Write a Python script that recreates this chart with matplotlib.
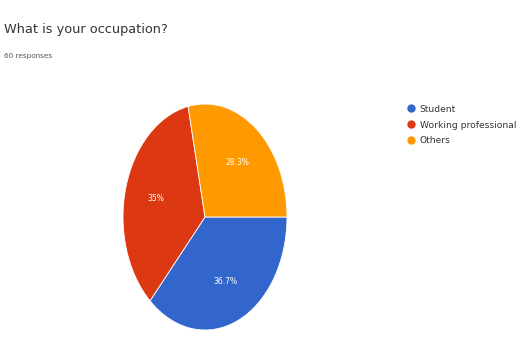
import matplotlib
matplotlib.use("Agg")
import matplotlib.pyplot as plt
from matplotlib.lines import Line2D
import numpy as np

categories = ["Student", "Working professional", "Others"]
values = [36.7, 35.0, 28.3]
labels = ["36.7%", "35%", "28.3%"]
colors = ["#3366cc", "#dc3912", "#ff9900"]

fig = plt.figure(figsize=(5.30, 3.39), dpi=100)
fig.patch.set_facecolor("white")

fig.text(4/530, 1 - 30/339, "What is your occupation?", fontsize=9.3, color="#333333",
         va="center", ha="left")
fig.text(4/530, 1 - 56/339, "60 responses", fontsize=5.2, color="#555555",
         va="center", ha="left")

ax = fig.add_axes([123/530, 1 - 330/339, 164/530, 226/339])
wedges, texts = ax.pie(values, colors=colors, startangle=0, counterclock=False,
                       radius=1.0, wedgeprops=dict(edgecolor="white", linewidth=0.6))
ax.set_aspect("auto")
ax.set_xlim(-1, 1)
ax.set_ylim(-1, 1)

start = 0.0
for v, lab in zip(values, labels):
    ang = start - v / 100 * 360 / 2
    r = 0.62
    ax.text(r * np.cos(np.radians(ang)), r * np.sin(np.radians(ang)), lab,
            ha="center", va="center", fontsize=5.5, color="white")
    start -= v / 100 * 360

handles = [Line2D([], [], marker="o", linestyle="none", markersize=6,
                  markerfacecolor=c, markeredgecolor="none") for c in colors]
leg = fig.legend(handles, categories, loc="upper left",
                 bbox_to_anchor=(404/530, 1 - 101/339), frameon=False,
                 fontsize=6.6, handlelength=0.8, handleheight=0.8,
                 labelspacing=0.75, handletextpad=0.5, borderaxespad=0)
for t in leg.get_texts():
    t.set_color("#333333")

fig.savefig("out.png", dpi=100, facecolor="white")
